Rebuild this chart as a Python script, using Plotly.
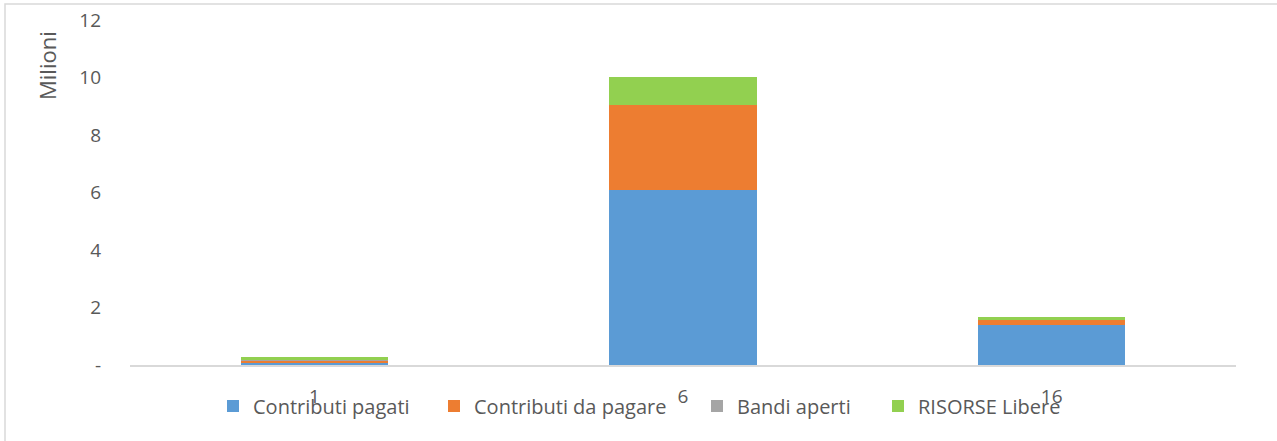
import plotly.graph_objects as go

categories = ["1", "6", "16"]
contributi_pagati = [0.10, 6.09, 1.40]
contributi_da_pagare = [0.04, 2.95, 0.15]
bandi_aperti = [0.02, 0.0, 0.0]
risorse_libere = [0.12, 0.98, 0.12]

y_tickvals = [0, 2, 4, 6, 8, 10, 12]
y_ticktext = ["-", "2", "4", "6", "8", "10", "12"]

series = [
    ("Contributi pagati", contributi_pagati, "#5B9BD5"),
    ("Contributi da pagare", contributi_da_pagare, "#ED7D31"),
    ("Bandi aperti", bandi_aperti, "#A5A5A5"),
    ("RISORSE Libere", risorse_libere, "#92D050"),
]
# left edge (px) of each legend square in the reference
legend_square_left = [228, 449, 712, 893]

font_family = "Open Sans, Liberation Sans, sans-serif"
text_color = "#595959"

L, R, T, B = 130, 41, 20, 76
W, H = 1277, 441
pw = W - L - R
ph = H - T - B


def px_x(x):
    return (x - L) / pw


def px_y(y):
    return (H - B - y) / ph


fig = go.Figure()
legend_layouts = {}
for i, (name, vals, color) in enumerate(series):
    lname = "legend" if i == 0 else f"legend{i + 1}"
    fig.add_trace(go.Bar(
        x=categories, y=vals, name=name,
        marker=dict(color=color, line=dict(width=0)),
        width=0.4,
        legend=lname,
    ))
    legend_layouts[lname] = dict(
        orientation="h",
        x=px_x(legend_square_left[i] - 15), xanchor="left",
        y=px_y(406), yanchor="middle",
        font=dict(size=20, color=text_color, family=font_family),
        itemwidth=30,
        bgcolor="rgba(0,0,0,0)",
        borderwidth=0,
    )

fig.update_layout(
    width=W, height=H,
    barmode="stack",
    margin=dict(l=L, r=R, t=T, b=B, autoexpand=False),
    paper_bgcolor="white",
    plot_bgcolor="white",
    font=dict(family=font_family, color=text_color, size=19),
    showlegend=True,
    xaxis=dict(
        type="category",
        automargin=False,
        showgrid=False,
        showline=True, linecolor="#D9D9D9", linewidth=2,
        ticks="",
        tickfont=dict(size=19, color=text_color),
        ticklabelstandoff=13,
    ),
    yaxis=dict(
        range=[0, 12],
        automargin=False,
        tickvals=y_tickvals, ticktext=y_ticktext,
        showgrid=False, zeroline=False, showline=False,
        ticks="",
        tickfont=dict(size=19, color=text_color),
        ticklabelstandoff=28,
    ),
    bargap=0.6,
    **legend_layouts,
)

fig.add_annotation(
    text="Milioni", textangle=-90,
    xref="paper", yref="paper",
    x=px_x(47), y=px_y(66), xanchor="center", yanchor="middle",
    showarrow=False,
    font=dict(size=22, color=text_color, family=font_family),
)

# chart-area border: only its left and top edges fall inside the picture
fig.add_shape(
    type="rect", xref="paper", yref="paper",
    x0=px_x(5), x1=px_x(1285), y0=px_y(450), y1=px_y(4),
    line=dict(color="#D9D9D9", width=1.5), fillcolor="rgba(0,0,0,0)",
    layer="below",
)

fig.write_html("out.html", config={"displayModeBar": False})

# remove default page margin so the figure sits at the window origin,
# and keep the page exactly the size of the figure
style = (
    "<style>html,body{margin:0;padding:0;overflow:hidden;"
    "width:1277px;height:441px;}"
    ".plotly-graph-div{display:block;}</style>"
)
with open("out.html", "r", encoding="utf-8") as f:
    html = f.read()
html = html.replace("<head>", "<head>" + style, 1)
with open("out.html", "w", encoding="utf-8") as f:
    f.write(html)
